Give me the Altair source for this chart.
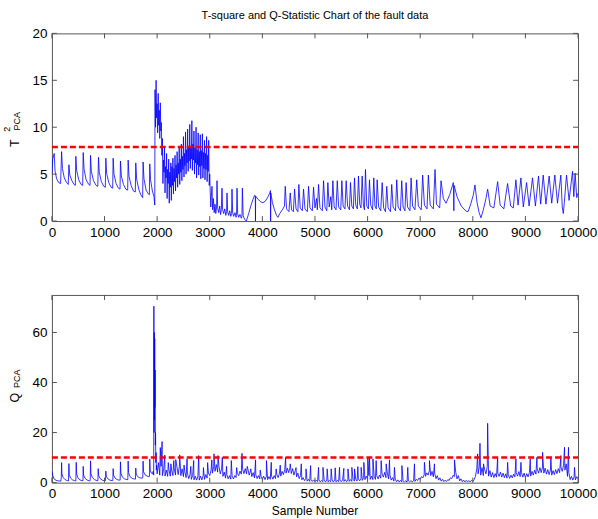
import altair as alt
import pandas as pd

# ---------------------------------------------------------------------------
# Data: T-square and Q statistics of the fault data set (10000 samples)
# ---------------------------------------------------------------------------
x_ticks = [0, 1000, 2000, 3000, 4000, 5000, 6000, 7000, 8000, 9000, 10000]
t2_ticks = [0, 5, 10, 15, 20]
q_ticks = [0, 20, 40, 60]

t2_limit = 7.9   # T-square control limit
q_limit = 10.0   # Q control limit

# T-square, samples 0..1955 (periodic normal operation)
t2_head_x = [0, 15, 44, 60, 90, 130, 165, 184, 200, 235, 280, 310, 323, 340, 380, 420, 445,
             455, 470, 510, 555, 585, 595, 612, 650, 700, 725, 734, 750, 790, 840, 872,
             886, 900, 940, 985, 1015, 1025, 1040, 1080, 1125, 1155, 1164, 1180, 1220, 1265,
             1295, 1303, 1320, 1360, 1405, 1440, 1449, 1465, 1505, 1550, 1585, 1594, 1610,
             1650, 1690, 1725, 1733, 1750, 1790, 1830, 1852, 1860, 1875, 1910, 1940, 1955]
t2_head_y = [5.0, 6.6, 7.2, 5.3, 4.5, 4.1, 4.0, 7.4, 5.6, 4.6, 4.1, 3.9, 6.0, 4.9, 4.3, 3.9, 3.8,
             6.9, 5.4, 4.4, 3.9, 3.8, 7.3, 5.5, 4.4, 3.9, 3.8, 7.0, 5.3, 4.3, 3.8, 3.7,
             6.8, 5.2, 4.2, 3.7, 3.6, 6.7, 5.1, 4.1, 3.6, 3.5, 6.7, 5.0, 4.0, 3.5,
             3.4, 6.4, 4.8, 3.9, 3.4, 3.3, 6.5, 4.8, 3.8, 3.2, 3.1, 6.2, 4.5,
             3.4, 2.8, 2.5, 6.3, 4.5, 3.3, 2.9, 2.8, 6.1, 4.4, 3.2, 2.6, 1.7]

# T-square during the fault (1960..2990): upper swing at 1960+20k, lower at 1970+20k
t2_band_start = 1960
t2_band_hi = [14.0, 15.0, 12.5, 13.6, 11.8, 12.6, 10.5,
              8.8, 6.5, 8.0, 5.8, 7.2, 5.5, 6.6, 5.2, 6.2, 5.8,
              6.7, 5.6, 7.0, 6.0, 7.4, 6.2, 7.8, 6.6, 8.2, 6.9,
              9.0, 7.2, 9.5, 7.6, 9.8, 7.8, 10.3, 8.0, 10.7, 8.2,
              9.6, 7.8, 10.0, 7.6, 9.4, 7.4, 9.2, 7.5, 9.3, 7.3,
              8.6, 7.2, 9.0, 7.0, 8.6]
t2_band_lo = [10.0, 11.0, 9.4, 10.2, 8.8, 9.6, 7.0,
              4.0, 5.2, 3.0, 4.6, 2.4, 4.0, 1.9, 3.6, 2.2, 3.8,
              2.9, 4.2, 3.2, 4.6, 3.6, 5.0, 3.9, 5.2, 4.3, 5.5,
              4.7, 5.9, 5.0, 6.2, 5.3, 6.4, 5.6, 6.6, 5.4, 6.5,
              5.0, 6.2, 4.6, 6.0, 4.9, 5.8, 4.5, 5.9, 4.6, 5.6,
              4.4, 5.5, 4.2, 5.3, 3.8]

# T-square after the fault (3000..10000)
t2_tail_x = [3000, 3010, 3020, 3030, 3043, 3055, 3070, 3085, 3100, 3115,
             3130, 3138, 3150, 3170, 3190, 3205, 3220, 3233, 3245, 3265,
             3285, 3305, 3320, 3328, 3340, 3360, 3380, 3400, 3415, 3423,
             3435, 3455, 3480, 3500, 3510, 3518, 3530, 3550, 3575, 3600,
             3612, 3620, 3635, 3660, 3695, 3740, 3780, 3820, 3853, 3866,
             3869, 3872, 3920, 3970, 4011, 4060, 4110, 4140, 4155, 4157,
             4160, 4190, 4230, 4270, 4296, 4330, 4380, 4420, 4435, 4460,
             4505, 4530, 4555, 4590, 4612, 4640, 4675, 4694, 4720, 4760,
             4783, 4810, 4855, 4878, 4905, 4950, 4973, 5000, 5030, 5045,
             5068, 5095, 5140, 5163, 5190, 5225, 5245, 5270, 5300, 5318,
             5340, 5365, 5400, 5424, 5450, 5490, 5511, 5535, 5570, 5593,
             5620, 5655, 5675, 5700, 5730, 5751, 5775, 5805, 5827, 5850,
             5875, 5897, 5920, 5940, 5960, 5985, 6015, 6036, 6060, 6095,
             6118, 6140, 6165, 6182, 6210, 6250, 6277, 6305, 6340, 6364,
             6390, 6435, 6459, 6485, 6530, 6554, 6580, 6625, 6649, 6675,
             6710, 6732, 6760, 6805, 6827, 6855, 6900, 6934, 6965, 7020,
             7047, 7080, 7130, 7155, 7190, 7250, 7282, 7310, 7370, 7396,
             7440, 7491, 7560, 7630, 7640, 7645, 7700, 7780, 7871, 7910,
             7960, 8010, 8041, 8080, 8120, 8155, 8200, 8250, 8282, 8330,
             8400, 8472, 8520, 8590, 8661, 8720, 8770, 8819, 8860, 8914,
             8960, 9022, 9070, 9135, 9190, 9249, 9290, 9338, 9390, 9451,
             9500, 9559, 9610, 9673, 9700, 9720, 9740, 9781, 9830, 9895,
             9920, 9945, 9975, 10000]
t2_tail_y = [5.0, 3.0, 1.5, 2.6, 3.7, 1.2, 2.4, 0.9, 1.8, 0.8,
             1.5, 4.3, 1.4, 0.9, 1.6, 0.7, 1.2, 3.5, 1.2, 0.8,
             1.3, 0.6, 1.0, 3.0, 1.0, 0.6, 1.1, 0.5, 0.8, 3.4,
             0.9, 0.5, 0.9, 0.4, 0.6, 3.5, 0.8, 0.4, 0.7, 0.3,
             0.5, 3.5, 0.6, 0.2, 0.0, 0.8, 1.6, 2.3, 2.75, 2.7,
             0.0, 2.65, 2.3, 2.05, 1.95, 2.15, 2.6, 3.0, 3.25, 0.0,
             3.0, 2.0, 1.2, 0.6, 0.4, 0.8, 1.2, 1.6, 3.7, 1.3,
             1.0, 3.0, 1.2, 1.0, 3.4, 1.3, 1.0, 3.9, 1.4, 1.1,
             3.4, 1.3, 1.0, 3.7, 1.4, 1.1, 3.6, 1.4, 2.4, 1.2,
             3.9, 1.4, 1.1, 4.3, 1.5, 1.1, 4.1, 1.5, 2.6, 1.2,
             4.3, 1.5, 1.2, 4.3, 1.5, 1.2, 4.3, 1.6, 1.3, 4.3,
             1.6, 1.2, 4.1, 1.6, 1.3, 4.6, 1.7, 1.3, 4.8, 1.8,
             1.4, 4.8, 1.7, 1.2, 5.5, 1.6, 1.3, 4.4, 1.7, 1.2,
             4.6, 1.6, 1.3, 4.4, 1.5, 1.1, 4.1, 1.4, 1.0, 3.7,
             1.4, 1.0, 3.9, 1.5, 1.1, 4.4, 1.5, 1.1, 4.3, 1.5,
             1.1, 4.1, 1.5, 1.1, 4.6, 1.6, 1.2, 4.4, 1.6, 1.2,
             4.9, 1.7, 1.3, 4.9, 1.7, 1.3, 5.5, 1.8, 1.4, 4.3,
             2.4, 1.9, 2.8, 4.1, 1.1, 3.8, 2.6, 1.6, 1.06, 1.0,
             1.8, 2.8, 3.85, 2.0, 0.9, 0.35, 1.2, 2.4, 3.4, 1.6,
             1.4, 4.2, 1.7, 1.3, 4.0, 1.6, 1.4, 4.4, 1.7, 4.6,
             1.5, 4.1, 1.6, 4.6, 1.6, 4.8, 1.8, 4.9, 1.8, 4.8,
             1.9, 4.9, 1.9, 4.9, 1.5, 0.8, 2.0, 4.9, 2.2, 5.3,
             2.6, 5.1, 2.5, 3.0]

# Q statistic, samples 0..1990 (periodic spikes, then the fault burst)
q_head_x = [0, 15, 40, 80, 120, 170, 178, 184, 190, 215,
            250, 290, 315, 323, 330, 355, 390, 430, 455, 462,
            470, 495, 530, 570, 590, 595, 602, 630, 670, 715,
            728, 734, 742, 770, 810, 855, 874, 880, 888, 915,
            955, 1000, 1019, 1025, 1033, 1060, 1100, 1145, 1158, 1164,
            1172, 1200, 1240, 1280, 1297, 1303, 1311, 1340, 1380, 1425,
            1443, 1449, 1457, 1485, 1525, 1570, 1588, 1594, 1602, 1630,
            1670, 1715, 1727, 1733, 1741, 1770, 1810, 1850, 1855, 1860,
            1868, 1890, 1910, 1925, 1935, 1938, 1942, 1946, 1950, 1954,
            1958, 1962, 1966, 1970, 1975, 1980, 1985, 1990]
q_head_y = [4.5, 3.0, 1.5, 0.9, 0.7, 0.6, 2.0, 8.0, 3.5, 2.0,
            1.2, 0.8, 0.7, 7.6, 3.2, 1.8, 1.1, 0.8, 0.7, 8.1,
            3.4, 1.9, 1.1, 0.8, 0.8, 6.5, 3.0, 1.7, 1.0, 0.7,
            0.8, 8.7, 3.6, 2.0, 1.2, 0.8, 0.8, 5.6, 2.9, 1.7,
            1.0, 0.7, 0.8, 4.6, 2.6, 1.6, 1.0, 0.8, 0.9, 5.6,
            3.0, 1.8, 1.2, 1.0, 1.0, 8.3, 3.8, 2.2, 1.5, 1.2,
            1.2, 8.6, 4.0, 2.4, 1.7, 1.4, 1.4, 5.8, 3.4, 2.4,
            1.9, 1.8, 1.9, 8.6, 4.4, 3.1, 2.6, 2.4, 2.5, 9.4,
            5.0, 3.8, 3.5, 4.5, 3.0, 70.5, 20.0, 60.0, 25.0, 57.5,
            30.0, 45.0, 15.0, 20.0, 8.0, 12.0, 5.0, 7.0]

# Q statistic noise band from 2000 on: low at 2000+50k, high at 2025+50k
q_band_start = 2000
q_band_lo = [3.5, 3.0, 2.8, 2.6, 2.5, 2.6, 2.8, 3.0, 3.2, 2.8,
             2.4, 2.0, 1.6, 1.3, 1.1, 1.0, 1.0, 1.1, 1.3, 1.8,
             2.8, 3.8, 4.5, 4.2, 3.5, 2.5, 1.8, 1.5, 1.4, 1.5,
             2.0, 2.8, 3.4, 3.6, 3.5, 3.0, 2.4, 1.9, 1.6, 1.5,
             1.3, 1.2, 1.2, 1.3, 1.4, 1.6, 2.0, 2.6, 3.2, 3.8,
             4.0, 3.6, 3.0, 2.3, 1.6, 1.1, 0.8, 0.6, 0.5, 0.5,
             0.4, 0.4, 0.3, 0.4, 0.3, 0.3, 0.4, 0.3, 0.3, 0.4,
             0.4, 0.5, 0.4, 0.5, 0.5, 0.6, 0.6, 0.7, 0.9, 1.2,
             1.4, 1.3, 1.2, 1.3, 1.5, 1.8, 2.2, 2.0, 1.5, 1.0,
             0.6, 0.4, 0.3, 0.3, 0.2, 0.2, 0.3, 0.3, 0.5, 0.8,
             1.3, 1.9, 2.5, 3.0, 2.8, 2.3, 1.6, 1.0, 0.6, 0.4,
             0.5, 0.9, 1.6, 2.4, 1.5, 0.7, 0.4, 0.3, 0.3, 0.3,
             0.4, 2.5, 3.5, 3.0, 2.8, 3.5, 2.6, 2.2, 2.0, 2.2,
             2.5, 2.2, 2.0, 1.8, 1.7, 1.9, 2.3, 2.6, 2.4, 2.2,
             2.0, 2.3, 2.6, 3.0, 3.4, 3.8, 4.0, 3.8, 3.4, 3.2,
             3.0, 3.2, 3.6, 4.0, 4.5, 5.0, 2.5, 1.2, 1.0, 1.1]
q_band_hi = [8.0, 6.5, 5.5, 5.0, 5.2, 5.0, 5.5, 6.5, 7.0, 5.5,
             4.5, 3.8, 3.2, 2.8, 2.6, 2.5, 2.6, 2.8, 3.2, 3.8,
             5.0, 6.5, 7.2, 6.5, 5.5, 4.2, 3.2, 2.8, 2.6, 2.8,
             3.6, 4.6, 5.3, 5.6, 5.4, 4.8, 4.0, 3.2, 2.8, 2.6,
             2.6, 2.4, 2.4, 2.6, 2.8, 3.2, 3.8, 4.5, 5.2, 5.8,
             6.1, 5.6, 4.8, 3.8, 2.8, 2.0, 1.6, 1.3, 1.2, 1.1,
             1.0, 1.1, 0.9, 1.0, 1.0, 0.9, 1.1, 1.0, 0.9, 1.0,
             1.1, 1.2, 1.1, 1.2, 1.3, 1.4, 1.5, 1.7, 2.0, 2.6,
             2.8, 2.6, 2.5, 2.7, 3.0, 3.5, 4.1, 3.8, 3.0, 2.0,
             1.4, 1.1, 0.9, 0.8, 0.7, 0.7, 0.8, 0.9, 1.3, 1.8,
             2.4, 3.2, 3.9, 4.8, 4.5, 3.8, 2.8, 1.9, 1.3, 1.0,
             1.2, 1.9, 2.9, 4.2, 2.8, 1.5, 1.0, 0.9, 0.8, 0.9,
             1.2, 5.5, 6.5, 6.0, 5.2, 6.5, 4.8, 4.0, 3.6, 3.8,
             4.2, 3.8, 3.5, 3.2, 3.0, 3.4, 4.0, 4.4, 4.0, 3.8,
             3.6, 4.0, 4.5, 5.0, 5.5, 6.0, 6.2, 5.8, 5.2, 5.0,
             4.8, 5.2, 5.6, 6.2, 7.0, 7.5, 4.0, 2.5, 2.2, 2.4]

# Q statistic isolated spikes from 2000 on
q_spike_x = [2060, 2094, 2145, 2212, 2262, 2316, 2354, 2429, 2512, 2569,
             2640, 2695, 2790, 2880, 2960, 3040, 3081, 3157, 3239, 3320,
             3410, 3512, 3613, 3712, 3780, 3871, 3960, 4078, 4169, 4262,
             4340, 4442, 4530, 4640, 4740, 4830, 4917, 5068, 5152, 5232,
             5308, 5384, 5467, 5549, 5627, 5701, 5752, 5815, 5878, 5929,
             6004, 6036, 6102, 6163, 6258, 6353, 6416, 6511, 6652, 6764,
             6891, 7081, 7176, 7271, 7652, 8092, 8136, 8204, 8282, 8472,
             8662, 8820, 8915, 9092, 9218, 9326, 9484, 9674, 9743, 9819,
             9933]
q_spike_y = [14.0, 16.4, 11.0, 8.0, 7.5, 8.8, 9.2, 11.1, 7.0, 9.5,
             6.5, 8.8, 10.8, 6.0, 8.0, 9.1, 11.5, 10.8, 10.1, 6.5,
             8.8, 6.0, 11.7, 6.5, 5.5, 9.1, 5.0, 8.8, 8.1, 5.5,
             7.0, 10.1, 7.5, 6.0, 7.5, 5.5, 6.8, 6.1, 6.1, 5.5,
             5.5, 5.9, 6.1, 5.7, 5.5, 6.1, 5.5, 6.4, 6.1, 8.1,
             10.1, 9.9, 9.5, 8.8, 8.8, 7.5, 9.1, 6.1, 6.8, 6.1,
             7.5, 8.1, 8.8, 7.5, 9.1, 11.5, 15.7, 7.5, 23.7, 10.1,
             8.1, 9.5, 8.1, 9.5, 10.1, 12.1, 10.1, 10.8, 14.1, 14.1,
             6.1]
q_end_x = [10000]
q_end_y = [1.6]

# ---------------------------------------------------------------------------
# Assemble the two series
# ---------------------------------------------------------------------------
band_s, band_v = [], []
for k, (hi, lo) in enumerate(zip(t2_band_hi, t2_band_lo)):
    band_s += [t2_band_start + 20 * k, t2_band_start + 20 * k + 10]
    band_v += [hi, lo]

t2_df = pd.concat([
    pd.DataFrame({"s": t2_head_x, "v": t2_head_y}),
    pd.DataFrame({"s": band_s, "v": band_v}),
    pd.DataFrame({"s": t2_tail_x, "v": t2_tail_y}),
]).drop_duplicates("s").sort_values("s").reset_index(drop=True)

qb_s, qb_v = [], []
for k, (lo, hi) in enumerate(zip(q_band_lo, q_band_hi)):
    qb_s += [q_band_start + 50 * k, q_band_start + 50 * k + 25]
    qb_v += [lo, hi]

q_df = pd.concat([
    pd.DataFrame({"s": q_head_x, "v": q_head_y}),
    pd.DataFrame({"s": qb_s, "v": qb_v}),
    pd.DataFrame({"s": q_spike_x, "v": q_spike_y}),
    pd.DataFrame({"s": q_end_x, "v": q_end_y}),
]).drop_duplicates("s").sort_values("s").reset_index(drop=True)

# ---------------------------------------------------------------------------
# Styling
# ---------------------------------------------------------------------------
W, H = 527, 188
FONT = "Liberation Sans"
FRAME = "#555555"
TICK_LEN = 5
LINE_BLUE = "#0000FF"
LIMIT_RED = "#FF0000"


def panel(df, y_max, y_ticks, limit, label_parts, extra_texts):
    x_enc = alt.X("s:Q",
                  scale=alt.Scale(domain=[0, 10000], nice=False, zero=False),
                  axis=alt.Axis(values=x_ticks, title=None, grid=False, domain=False,
                                ticks=False, labelPadding=4, labelFontSize=13.5,
                                labelFont=FONT, labelColor="#000000", labelFlush=False,
                                labelOverlap=False, format="d"))
    y_enc = alt.Y("v:Q",
                  scale=alt.Scale(domain=[0, y_max], nice=False),
                  axis=alt.Axis(values=y_ticks, title=None, grid=False, domain=False,
                                ticks=False, labelPadding=5, labelFontSize=13.5,
                                labelFont=FONT, labelColor="#000000", labelFlush=False,
                                labelOverlap=False, format="d"))

    series = alt.Chart(df).mark_line(color=LINE_BLUE, strokeWidth=0.8, clip=True).encode(
        x=x_enc, y=y_enc, order="s:Q")

    lim_df = pd.DataFrame({"s": [0], "s2": [10000], "v": [limit]})
    lim = alt.Chart(lim_df).mark_rule(color=LIMIT_RED, strokeWidth=2.5, strokeDash=[6, 3]).encode(
        x=x_enc, x2="s2:Q", y=y_enc)

    xt = pd.DataFrame({"s": x_ticks})
    yt = pd.DataFrame({"v": y_ticks})
    tick_style = dict(color=FRAME, strokeWidth=1)
    bottom_t = alt.Chart(xt).mark_rule(**tick_style).encode(
        x=x_enc, y=alt.value(H), y2=alt.value(H - TICK_LEN))
    top_t = alt.Chart(xt).mark_rule(**tick_style).encode(
        x=x_enc, y=alt.value(0), y2=alt.value(TICK_LEN))
    left_t = alt.Chart(yt).mark_rule(**tick_style).encode(
        y=y_enc, x=alt.value(0), x2=alt.value(TICK_LEN))
    right_t = alt.Chart(yt).mark_rule(**tick_style).encode(
        y=y_enc, x=alt.value(W - TICK_LEN), x2=alt.value(W))

    one = pd.DataFrame({"k": [0]})
    texts = []
    for txt, size, px, py, ang in label_parts + extra_texts:
        texts.append(
            alt.Chart(one).mark_text(text=txt, font=FONT, fontSize=size, color="#000000",
                                     angle=ang, align="center", baseline="middle")
            .encode(x=alt.value(px), y=alt.value(py))
        )

    return alt.layer(series, lim, bottom_t, top_t, left_t, right_t, *texts).properties(
        width=W, height=H)


# rotated y-axis labels built from pieces: (text, size, x, y, angle) in plot pixels
t2_label = [("T", 12.5, -37, 110, 270), ("2", 9, -44.5, 96, 270), ("PCA", 9, -35, 88, 270)]
q_label = [("Q", 12.5, -37, 103, 270), ("PCA", 9, -35, 84, 270)]

top = panel(t2_df, 20, t2_ticks, t2_limit, t2_label,
            [("T-square and Q-Statistic Chart of the fault data", 11, W / 2, -17, 0)])
bottom = panel(q_df, 75, q_ticks, q_limit, q_label,
               [("Sample Number", 12, W / 2, H + 28, 0)])

chart = alt.vconcat(top, bottom, spacing=55).configure_view(
    stroke=FRAME, strokeWidth=1
).properties(
    padding={"left": 3, "top": 9, "right": 0, "bottom": 0},
    background="white",
)

chart.save("out.html", embed_options={"renderer": "svg", "actions": False})
